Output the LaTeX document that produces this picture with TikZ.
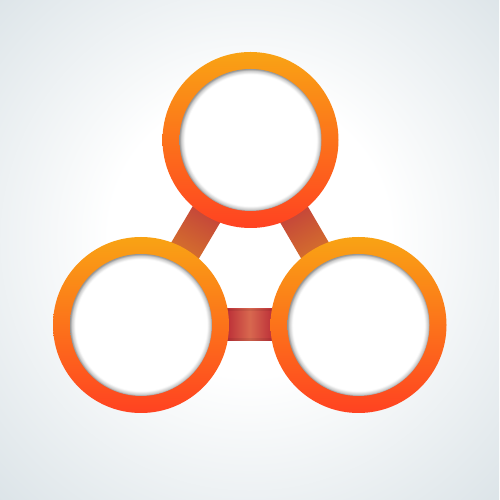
\documentclass[tikz,border=0pt]{standalone}
\usetikzlibrary{calc}
\definecolor{ringtop}{HTML}{F9A314}
\definecolor{ringbot}{HTML}{FF4221}
\definecolor{bgedge}{HTML}{DCE4E8}
\definecolor{barred}{HTML}{BC3038}
\definecolor{barmid}{HTML}{D8684F}
\definecolor{diagtop}{HTML}{C23F3C}
\definecolor{diagbot}{HTML}{D8782A}
\pgfdeclareradialshading{holeshade}{\pgfpoint{0bp}{0bp}}{%
  color(0bp)=(white); color(23.2bp)=(white); color(24.4bp)=(black!20);
  color(25bp)=(black!42); color(50bp)=(black!42)}
\pgfdeclareradialshading{bgshade}{\pgfpoint{0bp}{2bp}}{%
  color(0bp)=(white); color(14bp)=(white); color(36bp)=(bgedge); color(50bp)=(bgedge)}
\pgfdeclarelayer{bars}
\pgfsetlayers{bars,main}
\tikzset{
  ring/.style={circle, minimum size=176pt, inner sep=0pt, draw=none,
    top color=ringtop, bottom color=ringbot},
  hole/.style={circle, minimum size=142pt, inner sep=0pt, draw=none, shading=holeshade},
}
\begin{document}
\begin{tikzpicture}[x=1pt,y=1pt]
\begin{pgfonlayer}{bars}
\shade[shading=bgshade] (0,0) rectangle (499,500);
\end{pgfonlayer}
\useasboundingbox (0,0) rectangle (499,500);
% rings
\node[ring] (top) at (250.5,360) {};
\node[ring] (bl) at (141,175) {};
\node[ring] (br) at (358.5,175) {};
\node[hole] (toph) at (top.center) {};
\node[hole] (blh) at (bl.center) {};
\node[hole] (brh) at (br.center) {};
% connecting bars (behind rings)
\begin{pgfonlayer}{bars}
\coordinate (a1) at ($(top.center)!78pt!(bl.center)$);
\coordinate (a2) at ($(top.center)!140pt!(bl.center)$);
\path[top color=diagtop, bottom color=diagbot, shading angle=-30.5]
  ($(a1)!16pt!90:(a2)$) -- ($(a1)!16pt!-90:(a2)$) --
  ($(a2)!16pt!90:(a1)$) -- ($(a2)!16pt!-90:(a1)$) -- cycle;
\coordinate (b1) at ($(top.center)!78pt!(br.center)$);
\coordinate (b2) at ($(top.center)!140pt!(br.center)$);
\path[top color=diagtop, bottom color=diagbot, shading angle=30.3]
  ($(b1)!16pt!90:(b2)$) -- ($(b1)!16pt!-90:(b2)$) --
  ($(b2)!16pt!90:(b1)$) -- ($(b2)!16pt!-90:(b1)$) -- cycle;
\coordinate (c1) at ($(bl.center)+(86,0)$);
\coordinate (c2) at ($(br.center)+(-86,0)$);
\path[left color=barred, right color=barred, middle color=barmid]
  ($(c1)+(0,-16)$) rectangle ($(c2)+(0,16)$);
\path[fill=black, opacity=0.07] ($(c1)+(0,-16)$) rectangle ($(c2)+(0,-13.5)$);
\path[fill=black, opacity=0.07] ($(c1)+(0,13.5)$) rectangle ($(c2)+(0,16)$);
\end{pgfonlayer}
\end{tikzpicture}
\end{document}
